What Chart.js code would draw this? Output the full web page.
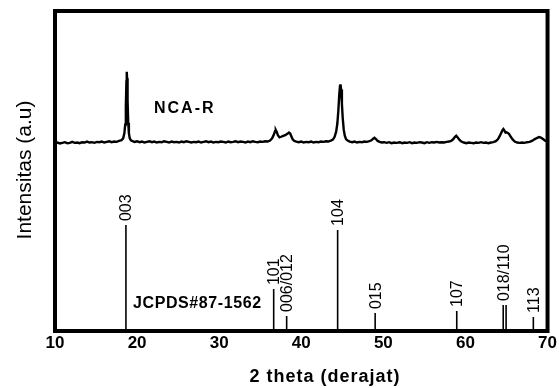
<!DOCTYPE html>
<html>
<head>
<meta charset="utf-8">
<script src="https://cdn.jsdelivr.net/npm/chart.js@4"></script>
<style>
  html, body { margin: 0; padding: 0; background: #fff; }
  #wrap { width: 559px; height: 388px; }
</style>
</head>
<body>
<div id="wrap"><canvas id="chart-xrd" width="559" height="388"></canvas></div>
<script>
const INK = "#000";
const FONT = "Arial, 'Liberation Sans', sans-serif";

// measured pattern NCA-R (2 theta, intensity a.u.)
const twoTheta = [
  10.0, 10.3, 10.6, 10.9, 11.2, 11.5, 11.8, 12.1, 12.4, 12.7, 13.0, 13.3, 13.6, 13.9, 14.2, 14.5, 14.8, 15.1, 15.4, 15.7,
  16.0, 16.3, 16.6, 16.9, 17.2, 17.5, 17.8, 18.1,
  18.3, 18.45, 18.55, 18.63, 18.7, 18.74, 18.78, 18.84, 18.92, 19.0, 19.1, 19.25, 19.45,
  19.7, 20.0, 20.3, 20.6, 20.9, 21.2, 21.5, 21.8, 22.1, 22.4, 22.7, 23.0, 23.3, 23.6, 23.9, 24.2, 24.5, 24.8, 25.1, 25.4,
  25.7, 26.0, 26.3, 26.6, 26.9, 27.2, 27.5, 27.8, 28.1, 28.4, 28.7, 29.0, 29.3, 29.6, 29.9, 30.2, 30.5, 30.8, 31.1, 31.4,
  31.7, 32.0, 32.3, 32.6, 32.9, 33.2, 33.5, 33.8, 34.1, 34.4, 34.7, 35.0, 35.3, 35.6, 35.9, 36.2,
  36.45, 36.65, 36.8, 36.9, 37.0, 37.15, 37.35, 37.55, 37.8, 38.05, 38.3, 38.5, 38.65, 38.8, 38.95, 39.15, 39.4,
  39.7, 40.0, 40.3, 40.6, 40.9, 41.2, 41.5, 41.8, 42.1, 42.4, 42.7, 43.0, 43.3, 43.6,
  43.85, 44.05, 44.25, 44.4, 44.52, 44.63, 44.72, 44.78, 44.85, 44.95, 45.05, 45.17, 45.3, 45.45, 45.65, 45.9,
  46.2, 46.5, 46.8, 47.1, 47.4, 47.7, 48.0, 48.3,
  48.55, 48.75, 48.92, 49.1, 49.3, 49.55,
  49.8, 50.1, 50.4, 50.7, 51.0, 51.3, 51.6, 52.0, 52.3, 52.6, 52.9, 53.2, 53.5, 53.8, 54.1, 54.4, 54.7, 55.0, 55.3, 55.6,
  55.9, 56.2, 56.5, 56.8, 57.1, 57.4, 57.7, 58.0,
  58.25, 58.5, 58.7, 58.88, 59.05, 59.25, 59.5,
  59.8, 60.1, 60.4, 60.7, 61.0, 61.3, 61.6, 61.9, 62.2, 62.5, 62.8, 63.1, 63.4, 63.7,
  63.95, 64.15, 64.35, 64.5, 64.62, 64.75, 64.88, 65.0, 65.15, 65.3, 65.45, 65.6, 65.8, 66.0, 66.3, 66.6, 66.9, 67.2,
  67.5, 67.8, 68.1, 68.4, 68.7, 68.95, 69.2, 69.45, 69.7, 70.0
];
const intensity = [
  58.7, 58.9, 58.6, 58.8, 59.0, 58.7, 58.8, 59.1, 58.8, 58.9, 58.7, 59.0, 58.9, 59.2, 58.9, 59.0, 58.8, 59.1, 59.0, 59.2,
  58.9, 59.1, 59.3, 59.0, 59.2, 59.1, 59.4, 59.6,
  60.2, 61.8, 64.5, 70.0, 78.0, 81.0, 79.0, 72.0, 65.0, 61.8, 60.3, 59.6, 59.3,
  59.1, 59.3, 59.0, 59.2, 58.9, 59.1, 59.3, 59.0, 59.2, 58.9, 59.1, 59.0, 59.3, 59.1, 58.9, 59.2, 59.0, 59.1, 58.9, 59.2,
  59.0, 59.3, 59.1, 58.9, 59.1, 59.0, 59.2, 58.9, 59.1, 59.3, 59.0, 59.2, 58.9, 59.1, 59.0, 59.2, 59.1, 58.9, 59.2, 59.0,
  59.1, 59.3, 59.0, 59.2, 59.1, 58.9, 59.2, 59.0, 59.3, 59.1, 59.0, 59.2, 59.1, 59.3, 59.2, 59.5,
  60.2, 61.3, 62.4, 62.8, 62.3, 61.2, 60.5, 60.7, 61.0, 61.2, 61.6, 62.0, 61.7, 60.8, 59.9, 59.4, 59.2,
  59.0, 59.2, 58.9, 59.1, 59.0, 59.2, 58.9, 59.1, 59.0, 59.2, 59.1, 59.3, 59.2, 59.5,
  59.8, 60.6, 62.3, 65.0, 69.0, 74.0, 76.6, 77.1, 75.5, 71.0, 66.5, 63.0, 61.0, 60.0, 59.5, 59.2,
  59.0, 59.2, 58.9, 59.1, 59.0, 59.2, 59.1, 59.3,
  59.6, 60.1, 60.4, 60.0, 59.4, 59.1,
  58.9, 59.0, 58.8, 59.0, 58.7, 58.9, 58.8, 59.0, 58.7, 58.9, 58.8, 59.0, 58.7, 58.9, 58.8, 59.0, 58.9, 58.7, 59.0, 58.8,
  59.0, 58.9, 59.1, 58.9, 59.0, 58.9, 59.1, 59.2,
  59.4, 59.9, 60.6, 61.0, 60.5, 59.8, 59.2,
  58.9, 58.7, 58.9, 58.8, 58.7, 58.9, 58.8, 59.0, 58.8, 58.9, 58.7, 58.9, 59.0, 59.3,
  59.9, 60.8, 61.9, 62.7, 63.1, 62.6, 62.0, 62.1, 61.9, 61.6, 61.0, 60.4, 59.7, 59.2, 58.9, 58.8, 58.9, 58.8,
  59.0, 59.1, 59.4, 59.9, 60.3, 60.6, 60.4, 60.0, 59.5, 59.3
];

// reference pattern JCPDS#87-1562
const refPos = [18.64, 36.64, 38.22, 44.43, 49.0, 58.94, 64.6, 64.95, 68.27];
const refHeight = [33.1, 13.1, 4.7, 31.6, 5.6, 6.25, 8.1, 8.1, 4.4];
const refLabel = ["003", "101", "006/012", "104", "015", "107", "018/110", "", "113"];

const xTicks = [10, 20, 30, 40, 50, 60, 70];

function stickPoints() {
  const pts = [];
  refPos.forEach((p, i) => {
    pts.push({ x: p, y: 0 }, { x: p, y: refHeight[i] }, { x: p, y: null });
  });
  return pts;
}

const framePlugin = {
  id: "frame",
  afterDraw(chart) {
    const { ctx, chartArea: a, scales } = chart;
    ctx.save();
    ctx.strokeStyle = INK;
    ctx.lineWidth = 4;
    ctx.strokeRect(a.left, a.top, a.right - a.left, a.bottom - a.top);

    // peak indices above the reference sticks
    ctx.fillStyle = INK;
    ctx.font = "16px " + FONT;
    ctx.textAlign = "left";
    ctx.textBaseline = "middle";
    refPos.forEach((p, i) => {
      if (!refLabel[i]) return;
      const x = scales.x.getPixelForValue(p);
      const y = scales.y.getPixelForValue(refHeight[i]) - 4;
      ctx.save();
      ctx.translate(x + 1, y);
      ctx.rotate(-Math.PI / 2);
      ctx.fillText(refLabel[i], 0, 0);
      ctx.restore();
    });

    ctx.font = "bold 16px " + FONT;
    ctx.letterSpacing = "2px";
    ctx.fillText("NCA-R", 154, 109);
    ctx.letterSpacing = "0.6px";
    ctx.fillText("JCPDS#87-1562", 133, 304);

    ctx.textAlign = "center";
    ctx.font = "bold 18px " + FONT;
    ctx.letterSpacing = "1px";
    ctx.fillText("2 theta (derajat)", 325, 377);

    ctx.letterSpacing = "0px";
    ctx.font = "21px " + FONT;
    ctx.translate(25, 170);
    ctx.rotate(-Math.PI / 2);
    ctx.fillText("Intensitas (a.u)", 0, 0);
    ctx.restore();
  },
};

new Chart(document.getElementById("chart-xrd"), {
  type: "scatter",
  data: {
    datasets: [
      {
        label: "NCA-R",
        data: twoTheta.map((t, i) => ({ x: t, y: intensity[i] })),
        showLine: true,
        borderColor: INK,
        borderWidth: 2.4,
        pointRadius: 0,
        tension: 0,
      },
      {
        label: "JCPDS#87-1562",
        data: stickPoints(),
        showLine: true,
        spanGaps: false,
        borderColor: INK,
        borderWidth: 1.6,
        pointRadius: 0,
      },
    ],
  },
  options: {
    responsive: false,
    animation: false,
    layout: { padding: { left: 0, right: 11, top: 11, bottom: 0 } },
    plugins: { legend: { display: false }, tooltip: { enabled: false } },
    scales: {
      x: {
        type: "linear",
        min: 10,
        max: 70,
        afterBuildTicks: (s) => { s.ticks = xTicks.map((v) => ({ value: v })); },
        afterFit: (s) => { s.height = 57; },
        grid: { display: false, drawTicks: false },
        border: { display: false },
        ticks: { color: INK, padding: 2, font: { family: FONT, size: 17, weight: "bold" } },
      },
      y: {
        min: 0,
        max: 100,
        afterFit: (s) => { s.width = 55; },
        grid: { display: false, drawTicks: false },
        border: { display: false },
        ticks: { display: false },
      },
    },
  },
  plugins: [framePlugin],
});
</script>
</body>
</html>
